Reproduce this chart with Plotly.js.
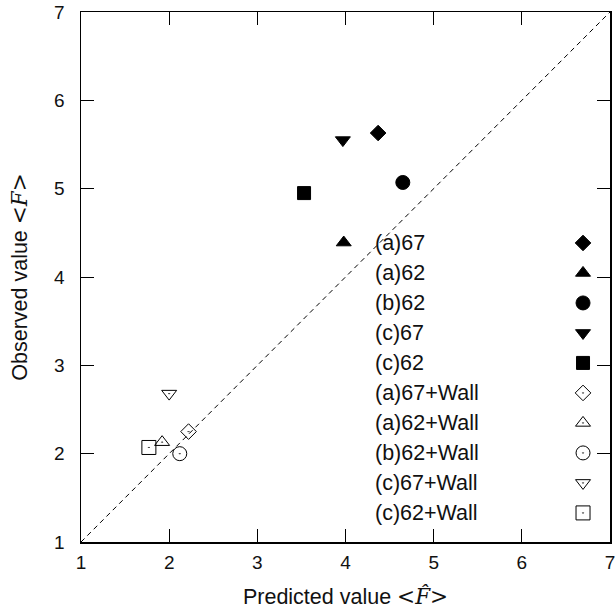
<!DOCTYPE html>
<html><head><meta charset="utf-8">
<script src="https://cdn.plot.ly/plotly-3.0.1.min.js"></script>
<style>body{margin:0;background:#fff}#c{width:615px;height:615px}</style>
</head><body><div id="c"></div>
<script>
const seriesNames = ["(a)67","(a)62","(b)62","(c)67","(c)62","(a)67+Wall","(a)62+Wall","(b)62+Wall","(c)67+Wall","(c)62+Wall"];
const predicted = [4.37, 3.98, 4.65, 3.97, 3.53, 2.22, 1.92, 2.12, 2.00, 1.77];
const observed  = [5.63, 4.39, 5.07, 5.55, 4.95, 2.25, 2.13, 2.00, 2.68, 2.07];
const symbols = ["diamond","triangle-up","circle","triangle-down","square","diamond-open-dot","triangle-up-open-dot","circle-open-dot","triangle-down-open-dot","square-open-dot"];
const sizes = [12,13,14,13,13,12,13,14,13,14];
const diagonal = [1, 7];
const tickVals = [1,2,3,4,5,6,7];
const FONT = 'Liberation Sans, Arial, sans-serif';

const traces = [];
traces.push({x: diagonal, y: diagonal, mode: 'lines', line: {color: '#000', width: 1, dash: '5px,4px'}, hoverinfo: 'skip', showlegend: false});
seriesNames.forEach((n, i) => {
  traces.push({x: [predicted[i]], y: [observed[i]], mode: 'markers', name: n, showlegend: false,
    marker: {symbol: symbols[i], size: sizes[i], color: '#000', line: {color: '#000', width: 1}}});
});
// legend markers on overlay axes (row index)
seriesNames.forEach((n, i) => {
  traces.push({x: [0.949], y: [i], xaxis: 'x2', yaxis: 'y2', mode: 'markers', showlegend: false, hoverinfo: 'skip',
    marker: {symbol: symbols[i], size: sizes[i], color: '#000', line: {color: '#000', width: 1}}});
});

const annotations = seriesNames.map((n, i) => ({
  xref: 'x2', yref: 'y2', x: 0.552, y: i, text: n, showarrow: false, xanchor: 'left', yanchor: 'middle',
  font: {family: FONT, size: 21.5, color: '#111'}
}));

const axisCommon = {
  range: [1, 7], tickvals: tickVals, ticks: 'inside', ticklen: 13, tickwidth: 1, tickcolor: '#000',
  showline: true, linecolor: '#000', linewidth: 1.5, mirror: 'ticks', showgrid: false, zeroline: false,
  ticklabeloverflow: 'allow',
  tickfont: {family: FONT, size: 19, color: '#111'}
};
const layout = {
  width: 615, height: 615, paper_bgcolor: '#fff', plot_bgcolor: '#fff',
  margin: {l: 81, r: 5, t: 12, b: 73},
  showlegend: false,
  xaxis: Object.assign({}, axisCommon, {ticklabelstandoff: 3, automargin: false,
    title: {text: 'Predicted value <span style="font-family:DejaVu Serif">&lt;<i>F̂</i>&gt;</span>', standoff: 16,
      font: {family: FONT, size: 21.5, color: '#111'}}}),
  yaxis: Object.assign({}, axisCommon, {ticklabelstandoff: 11, automargin: false,
    title: {text: 'Observed value <span style="font-family:DejaVu Serif">&lt;<i>F</i>&gt;</span>', standoff: 20,
      font: {family: FONT, size: 21.5, color: '#111'}}}),
  xaxis2: {overlaying: 'x', range: [0, 1], visible: false, fixedrange: true},
  yaxis2: {overlaying: 'y', range: [9.97, -7.7], visible: false, fixedrange: true},
  annotations: annotations
};
Plotly.newPlot('c', traces, layout, {staticPlot: true, displayModeBar: false});
</script></body></html>
